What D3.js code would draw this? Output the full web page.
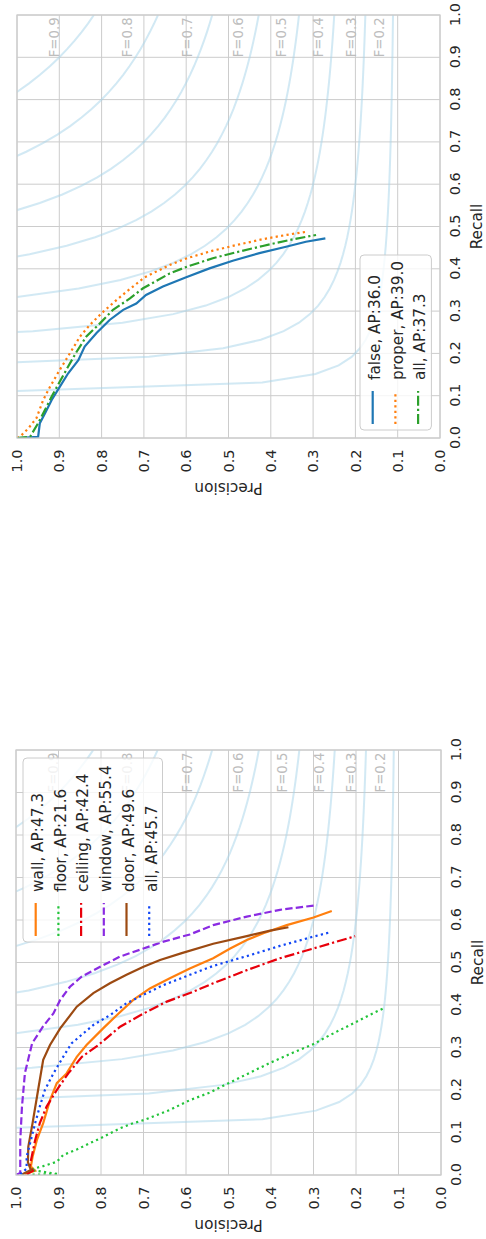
<!DOCTYPE html>
<html><head><meta charset="utf-8">
<script src="https://cdn.jsdelivr.net/npm/d3@7"></script>
<style>body{margin:0;background:#fff}svg{display:block;font-family:"DejaVu Sans",sans-serif}</style>
</head><body>
<svg id="chart" width="486" height="1239"></svg>
<script>
// ---- shared axes / reference values ----
const recallTicks = [0,0.1,0.2,0.3,0.4,0.5,0.6,0.7,0.8,0.9,1.0];
const precisionTicks = [0,0.1,0.2,0.3,0.4,0.5,0.6,0.7,0.8,0.9,1.0];
const fScores = [0.2,0.3,0.4,0.5,0.6,0.7,0.8,0.9];

// ---- lower chart (classes) ----
const classNames = ["wall","floor","ceiling","window","door","all"];
const classAP = [47.3,21.6,42.4,55.4,49.6,45.7];
const wallRecall = [0.002,0.01,0.02,0.043,0.082,0.122,0.176,0.216,0.239,0.278,0.306,0.345,0.376,0.412,0.439,0.463,0.486,0.51,0.533,0.553,0.569,0.588,0.606,0.621];
const wallPrecision = [0.98,0.955,0.965,0.961,0.951,0.936,0.92,0.904,0.881,0.857,0.834,0.795,0.763,0.724,0.685,0.638,0.591,0.536,0.496,0.457,0.418,0.363,0.30,0.257];
const floorRecall = [0.0,0.002,0.012,0.016,0.021,0.031,0.047,0.060,0.075,0.086,0.098,0.110,0.122,0.129,0.141,0.153,0.165,0.176,0.194,0.216,0.241,0.264,0.285,0.308,0.322,0.340,0.357,0.375,0.392];
const floorPrecision = [1.0,0.90,0.965,0.955,0.936,0.904,0.889,0.857,0.826,0.802,0.779,0.755,0.724,0.70,0.669,0.638,0.614,0.591,0.544,0.50,0.449,0.402,0.355,0.30,0.275,0.24,0.206,0.171,0.136];
const ceilingRecall = [0.002,0.01,0.02,0.043,0.082,0.122,0.161,0.2,0.239,0.278,0.306,0.349,0.38,0.408,0.428,0.451,0.482,0.51,0.533,0.562];
const ceilingPrecision = [0.975,0.96,0.968,0.963,0.955,0.944,0.928,0.904,0.877,0.845,0.806,0.755,0.70,0.645,0.591,0.536,0.457,0.379,0.30,0.202];
const windowRecall = [0.0,0.005,0.08,0.16,0.24,0.31,0.35,0.38,0.412,0.443,0.467,0.49,0.514,0.533,0.549,0.566,0.588,0.608,0.624,0.635];
const windowPrecision = [1.0,0.99,0.99,0.986,0.979,0.962,0.936,0.912,0.896,0.873,0.845,0.802,0.755,0.70,0.653,0.591,0.536,0.457,0.379,0.292];
const doorRecall = [0.002,0.012,0.03,0.067,0.122,0.2,0.271,0.306,0.345,0.396,0.428,0.451,0.471,0.49,0.506,0.522,0.544,0.562,0.575,0.583];
const doorPrecision = [0.985,0.965,0.972,0.971,0.961,0.948,0.936,0.92,0.896,0.857,0.818,0.779,0.74,0.70,0.661,0.61,0.536,0.457,0.402,0.359];
const allRecall = [0.002,0.015,0.043,0.082,0.122,0.161,0.2,0.239,0.278,0.31,0.353,0.376,0.404,0.424,0.447,0.471,0.492,0.515,0.539,0.561,0.571];
const allPrecision = [0.99,0.975,0.975,0.965,0.955,0.944,0.932,0.912,0.889,0.869,0.818,0.779,0.74,0.70,0.653,0.591,0.536,0.457,0.379,0.30,0.261];

// ---- upper chart (false / proper / all) ----
const groupNames = ["false","proper","all"];
const groupAP = ["36.0","39.0","37.3"];
const falseRecall = [0.0,0.003,0.035,0.058,0.09,0.121,0.153,0.184,0.216,0.248,0.279,0.303,0.318,0.338,0.358,0.38,0.401,0.419,0.437,0.452,0.464,0.472];
const falsePrecision = [1.0,0.95,0.946,0.934,0.918,0.899,0.879,0.855,0.84,0.812,0.781,0.749,0.718,0.695,0.655,0.60,0.545,0.49,0.427,0.364,0.317,0.271];
const properRecall = [0.0,0.003,0.023,0.047,0.09,0.121,0.161,0.2,0.24,0.267,0.295,0.326,0.346,0.38,0.409,0.425,0.443,0.456,0.47,0.48,0.488];
const properPrecision = [1.0,0.993,0.973,0.954,0.938,0.922,0.899,0.875,0.851,0.828,0.80,0.765,0.741,0.698,0.639,0.598,0.537,0.482,0.419,0.364,0.313];
const allGroupRecall = [0.0,0.003,0.035,0.066,0.098,0.133,0.169,0.204,0.24,0.271,0.303,0.33,0.354,0.389,0.405,0.425,0.439,0.454,0.468,0.48];
const allGroupPrecision = [1.0,0.969,0.95,0.934,0.918,0.899,0.879,0.859,0.836,0.804,0.773,0.733,0.702,0.639,0.598,0.537,0.482,0.419,0.356,0.293];

const DOT = "2.2,3.3", DASH = "7.4,3.2", DASHDOT = "10,3,2.2,3";

const svg = d3.select("#chart");
const TXT = "#262626", GRID = "#cccccc";

function drawChart(id, ox, oy, S, series, legend) {
  const g = svg.append("g").attr("transform", `translate(${ox},${oy}) rotate(-90)`);
  const x = d3.scaleLinear().domain([0,1]).range([0,S]);
  const y = d3.scaleLinear().domain([0,1]).range([S,0]);
  svg.append("defs").append("clipPath").attr("id", id)
    .append("rect").attr("x",0).attr("y",0).attr("width",S).attr("height",S);
  // grid
  g.append("g").selectAll("line").data(recallTicks).join("line")
    .attr("x1", d=>x(d)).attr("x2", d=>x(d)).attr("y1",0).attr("y2",S)
    .attr("stroke", GRID).attr("stroke-width",1);
  g.append("g").selectAll("line").data(precisionTicks).join("line")
    .attr("y1", d=>y(d)).attr("y2", d=>y(d)).attr("x1",0).attr("x2",S)
    .attr("stroke", GRID).attr("stroke-width",1);
  // iso-F curves
  const fg = g.append("g").attr("clip-path", `url(#${id})`);
  const line = d3.line().x(d=>x(d[0])).y(d=>y(d[1]));
  fScores.forEach(f => {
    const xs = d3.range(50).map(i => 0.01 + i*(0.99/49));
    const ys = xs.map(v => f*v/(2*v - f));
    const pts = xs.map((v,i)=>[v,ys[i]]).filter(p=>p[1]>=0);
    fg.append("path").attr("d", line(pts)).attr("fill","none")
      .attr("stroke","#a6d4ea").attr("stroke-opacity",0.5).attr("stroke-width",2);
    g.append("text").attr("x", x(0.9)).attr("y", y(ys[45]+0.02))
      .attr("font-size",13.3).attr("fill","#bdbdbd").text("F=" + f.toFixed(1));
  });
  // data lines
  const dg = g.append("g").attr("clip-path", `url(#${id})`);
  series.forEach(s => {
    const pts = s.r.map((v,i)=>[v, s.p[i]]);
    dg.append("path").attr("d", line(pts)).attr("fill","none")
      .attr("stroke", s.color).attr("stroke-width",2.2)
      .attr("stroke-dasharray", s.dash || null);
  });
  // spines
  g.append("rect").attr("x",0).attr("y",0).attr("width",S).attr("height",S)
    .attr("fill","none").attr("stroke",GRID).attr("stroke-width",1.25);
  // axes
  const ax = g.append("g").attr("transform",`translate(0,${S})`)
    .call(d3.axisBottom(x).tickValues(recallTicks).tickSize(0).tickPadding(10).tickFormat(d3.format(".1f")));
  const ay = g.append("g")
    .call(d3.axisLeft(y).tickValues(precisionTicks).tickSize(0).tickPadding(11.5).tickFormat(d3.format(".1f")));
  [ax, ay].forEach(a => {
    a.select(".domain").remove();
    a.selectAll("text").attr("font-size",14.5).attr("fill",TXT).attr("font-family",'"DejaVu Sans",sans-serif');
  });
  g.append("text").attr("x", S/2).attr("y", S+41.5).attr("text-anchor","middle")
    .attr("font-size",15.3).attr("fill",TXT).text("Recall");
  g.append("text").attr("transform",`translate(-45,${S/2}) rotate(-90)`).attr("text-anchor","middle")
    .attr("font-size",15.3).attr("fill",TXT).text("Precision");
  // legend
  const lg = g.append("g").attr("transform",`translate(${legend.x},${legend.y})`);
  const h = 12.5*2 + (series.length-1)*22.7 + 1;
  lg.append("rect").attr("width",legend.w).attr("height",h).attr("rx",4)
    .attr("fill","#fff").attr("fill-opacity",0.8).attr("stroke",GRID).attr("stroke-width",1);
  series.forEach((s,i) => {
    const cy = 12.7 + i*22.7;
    lg.append("line").attr("x1",6).attr("x2",39).attr("y1",cy).attr("y2",cy)
      .attr("stroke",s.color).attr("stroke-width",2.2).attr("stroke-dasharray", s.dash || null);
    lg.append("text").attr("x",50).attr("y",cy+7.3).attr("font-size",15.3).attr("fill",TXT)
      .text(s.label);
  });
}

const topSeries = [
  {r: falseRecall, p: falsePrecision, color: "#1f77b4", dash: null},
  {r: properRecall, p: properPrecision, color: "#ff7f0e", dash: DOT},
  {r: allGroupRecall, p: allGroupPrecision, color: "#2ca02c", dash: DASHDOT}
];
topSeries.forEach((s,i)=> s.label = `${groupNames[i]}, AP:${groupAP[i]}`);
drawChart("clipTop", 17, 438, 423, topSeries, {x: 8, y: 423-8-72, w: 175});

const botSeries = [
  {r: wallRecall, p: wallPrecision, color: "#ff7f0e", dash: null},
  {r: floorRecall, p: floorPrecision, color: "#22c43a", dash: DOT},
  {r: ceilingRecall, p: ceilingPrecision, color: "#e8000b", dash: DASHDOT},
  {r: windowRecall, p: windowPrecision, color: "#8a2be2", dash: DASH},
  {r: doorRecall, p: doorPrecision, color: "#9c4a12", dash: null},
  {r: allRecall, p: allPrecision, color: "#1146f5", dash: DOT}
];
botSeries.forEach((s,i)=> s.label = `${classNames[i]}, AP:${classAP[i].toFixed(1)}`);
drawChart("clipBot", 16, 1175, 425, botSeries, {x: 425-8-184, y: 7, w: 184});
</script>
</body></html>
